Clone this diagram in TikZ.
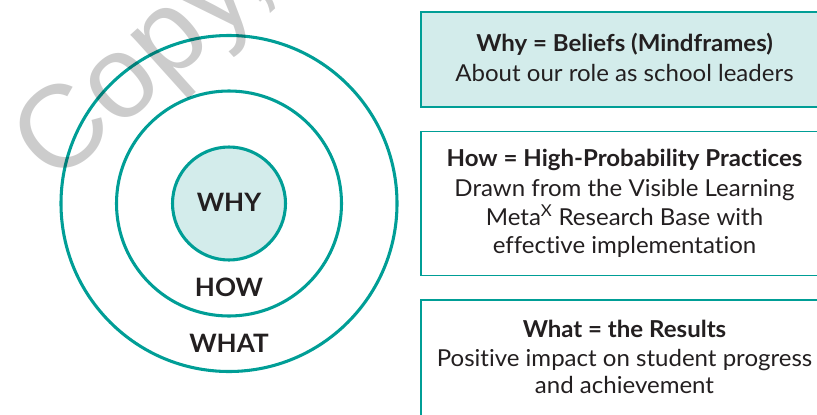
\documentclass[tikz,border=0pt]{standalone}
\usepackage{fontspec}
\setmainfont{Lato}[Ligatures={NoCommon}, FakeStretch=1.03]
\newfontfamily\wmfont{Liberation Sans}
\definecolor{teal1}{RGB}{0,158,150}
\definecolor{tealfill}{RGB}{211,236,235}
\definecolor{ink}{RGB}{35,31,32}
\definecolor{wmgrey}{RGB}{204,204,204}
\begin{document}
\begin{tikzpicture}[x=0.75pt,y=-0.75pt,
  ring/.style={circle, draw=teal1, line width=2.3pt, inner sep=0pt, outer sep=0pt},
  boxstyle/.style={draw=teal1, line width=1.4pt},
  lbl/.style={font=\fontsize{19}{23}\selectfont\bfseries, text=ink, anchor=base},
  head/.style={font=\fontsize{17.5}{21}\selectfont\bfseries, text=ink, anchor=base},
  body/.style={font=\fontsize{17.5}{21}\selectfont, text=ink, anchor=base},
  wmark/.style={font=\wmfont\fontsize{88}{90}\selectfont, text=wmgrey, rotate=42, anchor=base west}]
\useasboundingbox (0,0) rectangle (817,414);
\clip (0,0) rectangle (817,414);
% circles
\node[ring, minimum size=252pt] (outer) at (229,203.5) {};
\node[ring, minimum size=168.75pt] (middle) at (229,203.5) {};
\node[ring, fill=tealfill, minimum size=84.75pt] (inner) at (229,203.5) {};
\node[lbl] (why) at (229,211.7) {WHY};
\node[lbl] (how) at (229,296) {HOW};
\node[lbl] (what) at (229,352.7) {WHAT};
% watermark
\begin{scope}[blend mode=multiply]
\node[wmark] (wm) at (52,190) {Copy,};
\end{scope}
% boxes
\draw[boxstyle, fill=tealfill] (421,12) rectangle (828,107);
\draw[boxstyle, fill=white] (421,131.5) rectangle (828,275.5);
\draw[boxstyle, fill=white] (421,300) rectangle (828,430);
% box texts
\node[head] (b1h) at (624.5,51.7) {Why = Beliefs (Mindframes)};
\node[body] (b1a) at (624.5,81) {About our role as school leaders};
\node[head] (b2h) at (624.5,166.7) {How = High-Probability Practices};
\node[body] (b2a) at (624.5,196.5) {Drawn from the Visible Learning};
\node[body] (b2b) at (624.5,225) {Meta\textsuperscript{X} Research Base with};
\node[body] (b2c) at (624.5,253) {effective implementation};
\node[head] (b3h) at (624.5,337) {What = the Results};
\node[body] (b3a) at (624.5,366) {Positive impact on student progress};
\node[body] (b3b) at (624.5,393) {and achievement};
\end{tikzpicture}
\end{document}
